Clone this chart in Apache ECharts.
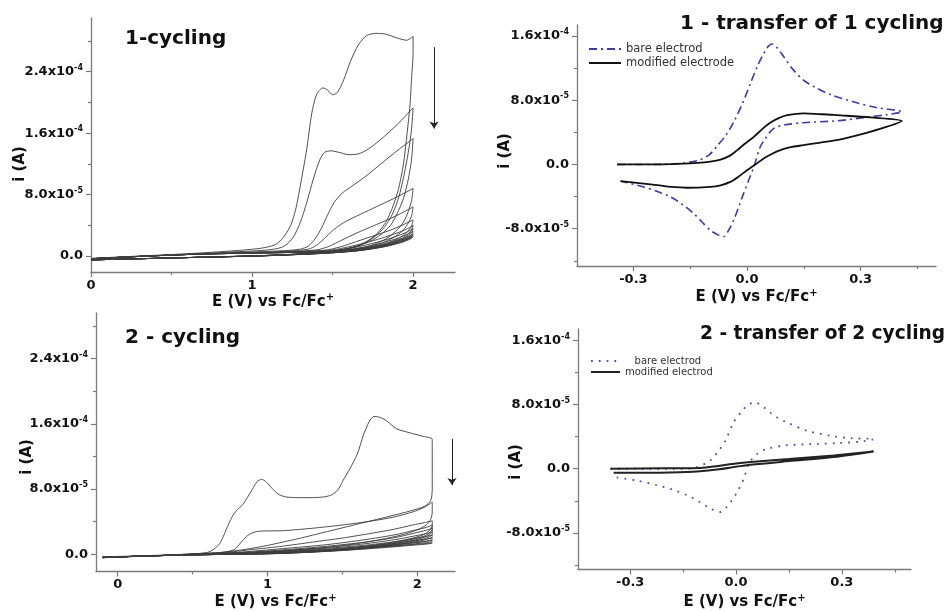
<!DOCTYPE html>
<html>
<head>
<meta charset="utf-8">
<script src="https://cdn.jsdelivr.net/npm/echarts@6/dist/echarts.min.js"></script>
<style>
  html, body { margin: 0; padding: 0; background: #fff; }
  #chart { width: 949px; height: 611px; }
</style>
</head>
<body>
<div id="chart"></div>
<script>
// currents are in units of 1e-5 A, potentials in V vs Fc/Fc+

// panel 1 : "1-cycling", one array per scan (forward then back)
const p1Cycles = [
  [[0,-0.3],[0.3,0],[0.6,0.3],[0.9,0.7],[1.05,1.0],[1.12,1.3],[1.16,1.7],[1.2,2.6],[1.24,4.0],[1.27,6.0],[1.3,9.2],[1.34,14.0],[1.37,18.5],[1.4,21.0],[1.44,21.9],[1.47,21.6],[1.5,21.0],[1.53,21.3],[1.57,23.0],[1.61,25.3],[1.66,27.5],[1.71,28.7],[1.77,29.0],[1.83,28.9],[1.9,28.4],[1.96,28.1],[2.0,28.6],
   [2.0,26.5],[1.99,23],[1.98,19.5],[1.96,15.5],[1.94,12],[1.91,8.8],[1.87,6.2],[1.83,4.4],[1.78,3.0],[1.72,2.0],[1.64,1.2],[1.5,0.6],[1.3,0.25],[1.0,0],[0.6,-0.2],[0.3,-0.35],[0,-0.5]],
  [[0,-0.35],[0.3,-0.05],[0.6,0.25],[0.9,0.55],[1.1,0.8],[1.18,1.1],[1.22,1.6],[1.26,2.6],[1.3,4.4],[1.34,7.0],[1.38,10.0],[1.42,12.5],[1.45,13.5],[1.49,13.7],[1.54,13.5],[1.6,13.2],[1.66,13.3],[1.72,13.9],[1.8,15.2],[1.9,17.1],[2.0,19.3],
   [1.99,16.5],[1.97,13.5],[1.94,10.2],[1.91,7.6],[1.87,5.4],[1.82,3.7],[1.76,2.5],[1.68,1.5],[1.55,0.8],[1.35,0.35],[1.0,0],[0.6,-0.2],[0.3,-0.35],[0,-0.5]],
  [[0,-0.35],[0.3,-0.05],[0.6,0.2],[0.9,0.45],[1.2,0.7],[1.3,0.9],[1.35,1.3],[1.39,2.2],[1.43,3.6],[1.47,5.4],[1.51,7.0],[1.56,8.2],[1.62,9.1],[1.7,10.3],[1.8,12.0],[1.9,13.7],[2.0,15.3],
   [1.99,12.5],[1.97,10],[1.94,7.5],[1.9,5.5],[1.86,4.0],[1.8,2.8],[1.73,1.9],[1.64,1.2],[1.5,0.65],[1.3,0.3],[1.0,0],[0.6,-0.2],[0.3,-0.35],[0,-0.5]],
  [[0,-0.35],[0.3,-0.05],[0.6,0.2],[0.9,0.4],[1.2,0.6],[1.35,0.9],[1.4,1.4],[1.45,2.3],[1.5,3.3],[1.55,4.1],[1.6,4.7],[1.7,5.7],[1.8,6.7],[1.9,7.7],[2.0,8.8],
   [1.99,7.2],[1.97,5.8],[1.94,4.4],[1.9,3.4],[1.85,2.5],[1.78,1.7],[1.7,1.15],[1.58,0.7],[1.4,0.35],[1.1,0.05],[0.6,-0.2],[0.3,-0.35],[0,-0.5]],
  [[0,-0.35],[0.3,-0.05],[0.6,0.2],[0.9,0.4],[1.2,0.55],[1.4,0.8],[1.47,1.2],[1.55,2.0],[1.65,3.0],[1.75,3.9],[1.85,4.8],[1.93,5.6],[2.0,6.4],
   [1.99,5.2],[1.97,4.3],[1.94,3.4],[1.9,2.7],[1.84,2.0],[1.77,1.4],[1.68,0.95],[1.55,0.6],[1.35,0.3],[1.05,0.05],[0.6,-0.2],[0.3,-0.35],[0,-0.5]],
  [[0,-0.35],[0.3,-0.05],[0.6,0.2],[0.9,0.4],[1.2,0.5],[1.45,0.75],[1.55,1.2],[1.65,1.9],[1.75,2.6],[1.85,3.3],[1.93,4.0],[2.0,4.7],
   [1.99,3.9],[1.97,3.3],[1.94,2.7],[1.9,2.2],[1.84,1.7],[1.76,1.2],[1.66,0.85],[1.52,0.55],[1.35,0.3],[1.05,0.05],[0.6,-0.2],[0.3,-0.35],[0,-0.5]],
  [[0,-0.35],[0.3,-0.05],[0.6,0.2],[0.9,0.35],[1.2,0.5],[1.5,0.8],[1.6,1.2],[1.7,1.7],[1.8,2.3],[1.9,3.0],[1.96,3.5],[2.0,4.0],
   [1.99,3.4],[1.97,2.9],[1.94,2.4],[1.9,2.0],[1.84,1.55],[1.76,1.15],[1.66,0.8],[1.52,0.5],[1.35,0.3],[1.05,0.05],[0.6,-0.2],[0.3,-0.35],[0,-0.5]],
  [[0,-0.35],[0.3,-0.05],[0.6,0.2],[0.9,0.35],[1.2,0.45],[1.5,0.7],[1.62,1.05],[1.72,1.5],[1.82,2.05],[1.9,2.6],[1.96,3.1],[2.0,3.6],
   [1.99,3.1],[1.97,2.7],[1.94,2.25],[1.9,1.9],[1.84,1.5],[1.76,1.1],[1.66,0.78],[1.52,0.5],[1.35,0.28],[1.05,0.03],[0.6,-0.2],[0.3,-0.35],[0,-0.5]],
  [[0,-0.35],[0.3,-0.05],[0.6,0.2],[0.9,0.35],[1.2,0.45],[1.5,0.65],[1.63,0.95],[1.74,1.35],[1.83,1.85],[1.91,2.35],[1.96,2.8],[2.0,3.2],
   [1.99,2.8],[1.97,2.45],[1.94,2.1],[1.9,1.8],[1.84,1.42],[1.76,1.05],[1.66,0.75],[1.52,0.48],[1.35,0.27],[1.05,0.02],[0.6,-0.2],[0.3,-0.35],[0,-0.5]],
  [[0,-0.35],[0.3,-0.05],[0.6,0.2],[0.9,0.35],[1.2,0.45],[1.5,0.6],[1.64,0.9],[1.75,1.25],[1.84,1.7],[1.92,2.2],[1.97,2.55],[2.0,2.9],
   [1.99,2.6],[1.97,2.3],[1.94,2.0],[1.9,1.72],[1.84,1.36],[1.76,1.02],[1.66,0.72],[1.52,0.46],[1.35,0.26],[1.05,0.02],[0.6,-0.2],[0.3,-0.35],[0,-0.5]],
  [[0,-0.35],[0.3,-0.05],[0.6,0.2],[0.9,0.35],[1.2,0.45],[1.5,0.58],[1.65,0.85],[1.76,1.18],[1.85,1.6],[1.92,2.05],[1.97,2.4],[2.0,2.7],
   [1.99,2.45],[1.97,2.2],[1.94,1.92],[1.9,1.66],[1.84,1.32],[1.76,1.0],[1.66,0.7],[1.52,0.45],[1.35,0.25],[1.05,0.02],[0.6,-0.2],[0.3,-0.35],[0,-0.5]],
  [[0,-0.35],[0.3,-0.05],[0.6,0.2],[0.9,0.35],[1.2,0.45],[1.5,0.55],[1.66,0.8],[1.77,1.12],[1.86,1.52],[1.93,1.95],[1.97,2.25],[2.0,2.5],
   [1.99,2.3],[1.97,2.1],[1.94,1.85],[1.9,1.6],[1.84,1.28],[1.76,0.98],[1.66,0.68],[1.52,0.44],[1.35,0.25],[1.05,0.02],[0.6,-0.2],[0.3,-0.35],[0,-0.5]]
];

// panel 2 : "1 - transfer of 1 cycling"
const p2Bare = [
  [-0.343,0],[-0.25,0],[-0.18,0.1],[-0.13,0.5],[-0.1,1.2],[-0.079,2.3],[-0.055,3.7],[-0.035,5.3],[-0.012,7.6],[0.009,10.1],[0.028,12.3],[0.044,13.8],[0.056,14.7],[0.066,15.0],[0.078,14.6],[0.097,13.4],[0.12,11.9],[0.149,10.5],[0.18,9.6],[0.22,8.7],[0.281,7.8],[0.34,7.1],[0.409,6.55],
  [0.37,6.2],[0.325,5.93],[0.237,5.43],[0.149,5.2],[0.097,4.9],[0.075,4.6],[0.061,4.06],[0.048,3.2],[0.035,2.2],[0.018,-0.3],[0.004,-2.0],[-0.009,-3.6],[-0.022,-5.3],[-0.035,-6.9],[-0.05,-8.3],[-0.062,-9.0],[-0.075,-8.8],[-0.097,-8.2],[-0.12,-7.1],[-0.141,-6.1],[-0.17,-5.0],[-0.202,-4.04],[-0.24,-3.3],[-0.273,-2.8],[-0.334,-2.08]
];
const p2Mod = [
  [-0.343,0],[-0.2,0.05],[-0.13,0.2],[-0.097,0.35],[-0.07,0.6],[-0.045,1.1],[-0.026,1.78],[-0.005,2.6],[0.018,3.44],[0.04,4.4],[0.061,5.2],[0.085,5.8],[0.106,6.14],[0.13,6.3],[0.149,6.35],[0.2,6.25],[0.237,6.14],[0.325,5.86],[0.409,5.4],
  [0.37,4.7],[0.325,4.06],[0.28,3.5],[0.237,3.03],[0.19,2.7],[0.149,2.4],[0.115,2.15],[0.088,1.78],[0.065,1.3],[0.044,0.75],[0.022,0.0],[0.0,-0.71],[-0.022,-1.5],[-0.044,-2.17],[-0.07,-2.6],[-0.097,-2.79],[-0.158,-2.9],[-0.2,-2.8],[-0.237,-2.58],[-0.334,-2.08]
];

// panel 3 : "2 - cycling"
const p3Cycles = [
  [[-0.1,-0.3],[0.2,-0.15],[0.5,0.05],[0.6,0.25],[0.64,0.6],[0.68,1.3],[0.71,2.4],[0.74,3.7],[0.77,4.8],[0.8,5.5],[0.83,6.0],[0.86,6.8],[0.9,8.0],[0.93,8.9],[0.96,9.2],[0.99,8.9],[1.03,8.1],[1.07,7.4],[1.12,7.05],[1.2,6.95],[1.3,6.95],[1.38,7.05],[1.43,7.3],[1.47,7.9],[1.5,8.9],[1.55,10.5],[1.6,12.3],[1.64,14.6],[1.68,16.3],[1.71,16.9],[1.75,16.8],[1.8,16.3],[1.86,15.4],[1.95,14.9],[2.03,14.5],[2.1,14.1],
   [2.1,12.5],[2.1,10],[2.1,8],[2.09,6.6],[2.05,5.9],[1.95,5.3],[1.8,4.6],[1.6,3.7],[1.4,2.8],[1.2,1.9],[1.0,1.1],[0.85,0.6],[0.7,0.25],[0.5,0.05],[0.2,-0.2],[-0.1,-0.4]],
  [[-0.1,-0.35],[0.2,-0.2],[0.5,0.05],[0.7,0.25],[0.78,0.6],[0.82,1.4],[0.86,2.2],[0.9,2.65],[0.95,2.85],[1.1,2.9],[1.3,3.2],[1.5,3.6],[1.7,4.1],[1.85,4.6],[1.97,5.2],[2.05,5.8],[2.1,6.4],
   [2.1,5.2],[2.09,4.3],[2.06,3.6],[2.0,3.0],[1.9,2.4],[1.75,1.8],[1.55,1.2],[1.3,0.7],[1.05,0.35],[0.8,0.1],[0.5,-0.05],[0.2,-0.2],[-0.1,-0.4]],
  [[-0.1,-0.35],[0.2,-0.2],[0.5,0],[0.7,0.2],[0.9,0.6],[1.1,1.0],[1.3,1.5],[1.5,2.0],[1.7,2.6],[1.85,3.1],[1.97,3.6],[2.05,3.9],[2.1,4.1],
   [2.1,3.5],[2.08,2.9],[2.04,2.4],[1.97,2.0],[1.87,1.6],[1.72,1.15],[1.5,0.7],[1.25,0.35],[1.0,0.15],[0.7,0],[0.4,-0.1],[0.1,-0.25],[-0.1,-0.4]],
  [[-0.1,-0.35],[0.2,-0.2],[0.5,0],[0.8,0.25],[1.1,0.7],[1.4,1.2],[1.65,1.8],[1.85,2.4],[1.98,2.95],[2.06,3.3],[2.1,3.6],
   [2.1,3.1],[2.08,2.6],[2.04,2.2],[1.97,1.85],[1.87,1.5],[1.72,1.08],[1.5,0.65],[1.25,0.33],[1.0,0.13],[0.7,0],[0.4,-0.1],[0.1,-0.25],[-0.1,-0.4]],
  [[-0.1,-0.35],[0.2,-0.2],[0.5,0],[0.8,0.2],[1.1,0.55],[1.4,1.0],[1.65,1.5],[1.85,2.05],[1.98,2.6],[2.06,2.95],[2.1,3.2],
   [2.1,2.8],[2.08,2.4],[2.04,2.05],[1.97,1.72],[1.87,1.4],[1.72,1.0],[1.5,0.6],[1.25,0.3],[1.0,0.12],[0.7,0],[0.4,-0.1],[0.1,-0.25],[-0.1,-0.4]],
  [[-0.1,-0.35],[0.2,-0.2],[0.5,0],[0.8,0.18],[1.1,0.45],[1.4,0.85],[1.65,1.3],[1.85,1.8],[1.98,2.25],[2.06,2.55],[2.1,2.75],
   [2.1,2.45],[2.08,2.15],[2.04,1.88],[1.97,1.6],[1.87,1.3],[1.72,0.95],[1.5,0.58],[1.25,0.28],[1.0,0.1],[0.7,0],[0.4,-0.1],[0.1,-0.25],[-0.1,-0.4]],
  [[-0.1,-0.35],[0.2,-0.2],[0.5,0],[0.8,0.15],[1.1,0.4],[1.4,0.75],[1.65,1.12],[1.85,1.55],[1.98,1.95],[2.06,2.2],[2.1,2.35],
   [2.1,2.15],[2.08,1.95],[2.04,1.72],[1.97,1.5],[1.87,1.22],[1.72,0.9],[1.5,0.55],[1.25,0.27],[1.0,0.1],[0.7,0],[0.4,-0.1],[0.1,-0.25],[-0.1,-0.4]],
  [[-0.1,-0.35],[0.2,-0.2],[0.5,0],[0.8,0.13],[1.1,0.35],[1.4,0.65],[1.65,1.0],[1.85,1.35],[1.98,1.7],[2.06,1.88],[2.1,2.0],
   [2.1,1.85],[2.08,1.7],[2.04,1.55],[1.97,1.38],[1.87,1.15],[1.72,0.85],[1.5,0.52],[1.25,0.25],[1.0,0.08],[0.7,0],[0.4,-0.1],[0.1,-0.25],[-0.1,-0.4]],
  [[-0.1,-0.35],[0.2,-0.2],[0.5,0],[0.8,0.12],[1.1,0.3],[1.4,0.58],[1.65,0.88],[1.85,1.18],[1.98,1.45],[2.06,1.6],[2.1,1.7],
   [2.1,1.6],[2.08,1.5],[2.04,1.4],[1.97,1.26],[1.87,1.06],[1.72,0.8],[1.5,0.5],[1.25,0.24],[1.0,0.07],[0.7,0],[0.4,-0.1],[0.1,-0.25],[-0.1,-0.4]],
  [[-0.1,-0.35],[0.2,-0.2],[0.5,0],[0.8,0.1],[1.1,0.28],[1.4,0.52],[1.65,0.78],[1.85,1.02],[1.98,1.22],[2.06,1.33],[2.1,1.4],
   [2.1,1.35],[2.08,1.3],[2.04,1.22],[1.97,1.12],[1.87,0.96],[1.72,0.75],[1.5,0.47],[1.25,0.23],[1.0,0.06],[0.7,0],[0.4,-0.1],[0.1,-0.25],[-0.1,-0.4]]
];

// panel 4 : "2 - transfer of 2 cycling"
const p4Bare = [
  [-0.356,0],[-0.25,0],[-0.15,0],[-0.111,0.2],[-0.073,1.03],[-0.05,2.2],[-0.03,3.5],[-0.007,5.77],[0.017,7.2],[0.035,8.0],[0.055,8.25],[0.075,7.8],[0.097,7.0],[0.12,6.3],[0.145,5.77],[0.201,4.74],[0.277,4.04],[0.33,3.8],[0.39,3.7],
  [0.352,3.38],[0.29,3.2],[0.23,3.09],[0.135,2.89],[0.088,2.47],[0.06,1.85],[0.036,0.62],[0.022,-1.24],[-0.002,-3.3],[-0.026,-4.74],[-0.045,-5.4],[-0.073,-4.95],[-0.105,-4.1],[-0.139,-3.3],[-0.18,-2.6],[-0.224,-2.06],[-0.28,-1.5],[-0.347,-1.03]
];
const p4Mod = [
  [-0.356,0],[-0.2,0.05],[-0.101,0.09],[-0.05,0.35],[0.0,0.65],[0.041,0.83],[0.15,1.2],[0.277,1.65],[0.39,2.14],
  [0.277,1.45],[0.15,0.95],[0.041,0.5],[0.0,0.25],[-0.054,-0.09],[-0.139,-0.41],[-0.25,-0.5],[-0.347,-0.5]
];

// axis ticks (current ticks in 1e-5 A)
const cycYMajor = [0, 8, 16, 24];
const cycYMinor = [4, 12, 20, 28];
const trYMajor = [-8, 0, 8, 16];
const trYMinor = [-12, -4, 4, 12];
const cycXMajor = [0, 1, 2];
const cycXMinor = [0.5, 1.5];
const trXMajor = [-0.3, 0, 0.3];
const trXMinor = [-0.15, 0.15, 0.45];

const titles = ["1-cycling", "1 - transfer of 1 cycling", "2 - cycling", "2 - transfer of 2 cycling"];

const FONT = '"DejaVu Sans", sans-serif';
const AXIS_COLOR = "#7a7a7a";

function fmtCurrent(v) {
  if (Math.abs(v) < 1e-9) return "{m|0.0}";
  const a = v * 1e-5;
  const e = Math.floor(Math.log10(Math.abs(a)) + 1e-9);
  const m = a / Math.pow(10, e);
  return "{m|" + m.toFixed(1) + "x10}{s|" + e + "}";
}

const labelRich = {
  m: {fontFamily: FONT, fontWeight: "bold", fontSize: 13, color: "#111", lineHeight: 16},
  s: {fontFamily: FONT, fontWeight: "bold", fontSize: 8, color: "#111", lineHeight: 9, verticalAlign: "top"},
};

function xAxes(grid, min, max, major, minor, fmt, gap) {
  return [
    {
      gridIndex: grid, type: "value", min: min, max: max, position: "bottom",
      axisLine: {show: true, onZero: false, lineStyle: {color: AXIS_COLOR, width: 1.3}},
      axisTick: {show: true, customValues: major, length: 5, lineStyle: {color: AXIS_COLOR, width: 1.2}},
      axisLabel: {customValues: major, formatter: fmt, margin: 7, fontFamily: FONT, fontWeight: "bold", fontSize: 13, color: "#111"},
      splitLine: {show: false},
      name: "{a|E (V) vs Fc/Fc}{s|+}",
      nameLocation: "middle",
      nameGap: gap,
      nameTextStyle: {
        rich: {
          a: {fontFamily: FONT, fontWeight: "bold", fontSize: 15, color: "#111", lineHeight: 18},
          s: {fontFamily: FONT, fontWeight: "bold", fontSize: 10, color: "#111", lineHeight: 10, verticalAlign: "top"},
        },
      },
    },
    {
      gridIndex: grid, type: "value", min: min, max: max, position: "bottom",
      axisLine: {show: false, onZero: false},
      axisTick: {show: true, customValues: minor, length: 3, lineStyle: {color: AXIS_COLOR, width: 1.2}},
      axisLabel: {show: false},
      splitLine: {show: false},
    },
  ];
}

function yAxes(grid, min, max, major, minor) {
  return [
    {
      gridIndex: grid, type: "value", min: min, max: max, position: "left",
      axisLine: {show: true, onZero: false, lineStyle: {color: AXIS_COLOR, width: 1.3}},
      axisTick: {show: true, customValues: major, length: 5, lineStyle: {color: AXIS_COLOR, width: 1.2}},
      axisLabel: {customValues: major, formatter: fmtCurrent, margin: 8, rich: labelRich},
      splitLine: {show: false},
    },
    {
      gridIndex: grid, type: "value", min: min, max: max, position: "left",
      axisLine: {show: false, onZero: false},
      axisTick: {show: true, customValues: minor, length: 3, lineStyle: {color: AXIS_COLOR, width: 1.2}},
      axisLabel: {show: false},
      splitLine: {show: false},
    },
  ];
}

const fmtInt = v => String(Math.round(v));
const fmtOne = v => (Math.abs(v) < 1e-9 ? "0.0" : v.toFixed(1));

function cycleSeries(list, axis, arrow) {
  return list.map((pts, k) => {
    const s = {
      type: "line", xAxisIndex: axis, yAxisIndex: axis, data: pts,
      symbol: "none", smooth: 0.25, silent: true,
      lineStyle: {color: "#3c3c3c", width: 0.9},
    };
    if (k === 0) {
      s.markLine = {
        silent: true, symbol: ["none", "arrow"], symbolSize: 7,
        label: {show: false},
        lineStyle: {color: "#222", width: 1, type: "solid"},
        data: [[{coord: arrow[0]}, {coord: arrow[1]}]],
      };
    }
    return s;
  });
}

// legend: line sample only, no marker dot
const legendBase = {
  orient: "vertical", padding: 0, itemHeight: 12, selectedMode: false,
  itemStyle: {color: "rgba(0,0,0,0)", borderColor: "rgba(0,0,0,0)", borderWidth: 0, opacity: 0},
};

const chart = echarts.init(document.getElementById("chart"));

const option = {
  animation: false,
  backgroundColor: "#fff",
  title: [
    {text: titles[0], left: 125, top: 29, size: 20},
    {text: titles[1], left: 680, top: 14, size: 20},
    {text: titles[2], left: 125, top: 328, size: 20},
    {text: titles[3], left: 700, top: 324, size: 18.6},
  ].map(t => ({
    text: t.text, left: t.left, top: t.top, padding: 0,
    textStyle: {fontFamily: FONT, fontWeight: "bold", fontSize: t.size, lineHeight: 20, color: "#111"},
  })),
  legend: [
    Object.assign({}, legendBase, {
      data: ["bare electrod", "modified electrode"],
      left: 588, top: 43, itemWidth: 32, itemGap: 2,
      textStyle: {fontFamily: FONT, fontSize: 11.5, color: "#333"},
    }),
    Object.assign({}, legendBase, {
      data: ["bare electrod (2)", "modified electrod"],
      left: 590, top: 356, itemWidth: 29, itemGap: 1,
      formatter: n => (n === "bare electrod (2)" ? "   bare electrod" : n),
      textStyle: {fontFamily: FONT, fontSize: 10, color: "#333"},
    }),
  ],
  grid: [
    {left: 91, top: 18, width: 364, height: 254},
    {left: 577, top: 25, width: 359, height: 241},
    {left: 96, top: 313, width: 359, height: 261},
    {left: 578, top: 329, width: 333, height: 243},
  ],
  xAxis: [].concat(
    xAxes(0, 0, 2.26, cycXMajor, cycXMinor, fmtInt, 13),
    xAxes(1, -0.449, 0.499, trXMajor, trXMinor, fmtOne, 22),
    xAxes(2, -0.145, 2.252, cycXMajor, cycXMinor, fmtInt, 22),
    xAxes(3, -0.448, 0.496, trXMajor, trXMinor, fmtOne, 24)
  ),
  yAxis: [].concat(
    yAxes(0, -2.08, 31.0, cycYMajor, cycYMinor),
    yAxes(1, -12.64, 17.36, trYMajor, trYMinor),
    yAxes(2, -2.1, 29.58, cycYMajor, cycYMinor),
    yAxes(3, -12.57, 17.43, trYMajor, trYMinor)
  ),
  graphic: [
    [20, 164], [505, 151], [27, 457], [516, 462],
  ].map(p => ({
    type: "text", x: p[0], y: p[1], rotation: Math.PI / 2, silent: true,
    style: {
      text: "i (A)", font: 'bold 15px "DejaVu Sans"', fill: "#111",
      textAlign: "center", textVerticalAlign: "middle", align: "center", verticalAlign: "middle",
    },
  })),
  series: [].concat(
    cycleSeries(p1Cycles, 0, [[2.13, 27.2], [2.13, 16.6]]),
    [
      {
        name: "bare electrod", type: "line", xAxisIndex: 2, yAxisIndex: 2, data: p2Bare,
        symbol: "none", smooth: 0.3, silent: true,
        itemStyle: {color: "#3b3ba0"},
        lineStyle: {color: "#3b3ba0", width: 1.6, type: [8, 4, 2, 4]},
      },
      {
        name: "modified electrode", type: "line", xAxisIndex: 2, yAxisIndex: 2, data: p2Mod,
        symbol: "none", smooth: 0.3, silent: true,
        itemStyle: {color: "#111"},
        lineStyle: {color: "#111", width: 1.8},
      },
    ],
    cycleSeries(p3Cycles, 4, [[2.232, 14.17], [2.232, 8.5]]),
    [
      {
        name: "bare electrod (2)", type: "line", xAxisIndex: 6, yAxisIndex: 6, data: p4Bare,
        symbol: "none", smooth: 0.3, silent: true,
        itemStyle: {color: "#5050aa"},
        lineStyle: {color: "#5050aa", width: 1.8, type: [1.8, 6]},
      },
      {
        name: "modified electrod", type: "line", xAxisIndex: 6, yAxisIndex: 6, data: p4Mod,
        symbol: "none", smooth: 0.3, silent: true,
        itemStyle: {color: "#222"},
        lineStyle: {color: "#222", width: 2},
      },
    ]
  ),
};

chart.setOption(option);
</script>
</body>
</html>
